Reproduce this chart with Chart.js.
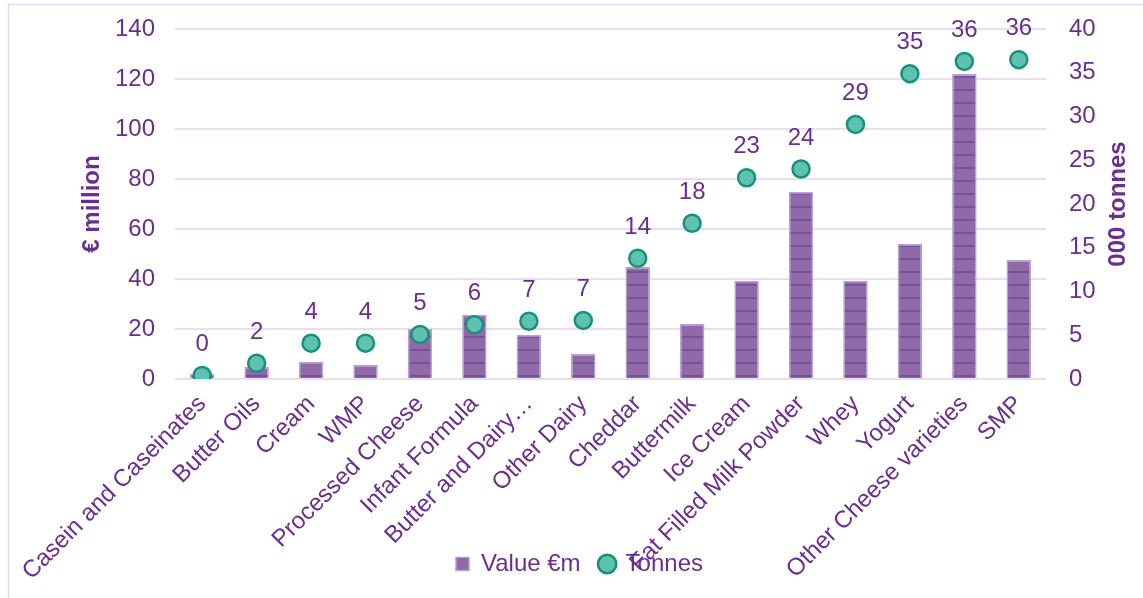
<!DOCTYPE html>
<html>
<head>
<meta charset="utf-8">
<script src="https://cdn.jsdelivr.net/npm/chart.js@4.4.1/dist/chart.umd.min.js"></script>
<style>
  html, body { margin: 0; padding: 0; background: #fff; }
  #wrap { position: relative; width: 1143px; height: 598px; }
</style>
</head>
<body>
<div id="wrap"><canvas id="dairyChart" width="1143" height="598"></canvas></div>
<script>
// ==================== DATA ====================
const categories = [
  "Casein and Caseinates", "Butter Oils", "Cream", "WMP", "Processed Cheese",
  "Infant Formula", "Butter and Dairy…", "Other Dairy", "Cheddar", "Buttermilk",
  "Ice Cream", "Fat Filled Milk Powder", "Whey", "Yogurt", "Other Cheese varieties", "SMP"
];
const valueEurM = [2, 4.8, 6.8, 5.6, 20, 25.7, 17.6, 10, 44.8, 22, 39.3, 74.8, 39.3, 54, 122, 47.6];
const tonnes = [0.4, 1.8, 4.1, 4.1, 5.1, 6.2, 6.6, 6.7, 13.8, 17.8, 23, 24, 29.1, 34.9, 36.3, 36.5];
const tonnesLabels = [0, 2, 4, 4, 5, 6, 7, 7, 14, 18, 23, 24, 29, 35, 36, 36];
const leftTicks = [0, 20, 40, 60, 80, 100, 120, 140];
const rightTicks = [0, 5, 10, 15, 20, 25, 30, 35, 40];

const purple = "#6b2d8e";
const fontFamily = "'Liberation Sans', Arial, sans-serif";
const FS = 24;

// striped bar fill
function barPattern() {
  const c = document.createElement("canvas");
  c.width = 4; c.height = 13;
  const g = c.getContext("2d");
  g.fillStyle = "#8e6aa9";
  g.fillRect(0, 0, 4, 13);
  g.fillStyle = "#77519b";
  g.fillRect(0, 11, 4, 2);
  return g.createPattern(c, "repeat");
}

// ==================== PLUGINS ====================
const frame = {
  id: "frame",
  beforeDraw(chart) {
    const ctx = chart.ctx;
    ctx.save();
    ctx.strokeStyle = "#e6d9ef";
    ctx.lineWidth = 1.5;
    ctx.strokeRect(8.5, 4.5, 1140, 600);
    ctx.restore();
  }
};

// let the rotated category labels run under the legend (no clipping)
const labelRoom = {
  id: "labelRoom",
  afterLayout(chart) {
    chart.scales.x.bottom = chart.height;
  }
};

const pointLabels = {
  id: "pointLabels",
  afterDatasetsDraw(chart) {
    const ctx = chart.ctx;
    const meta = chart.getDatasetMeta(1);
    ctx.save();
    ctx.fillStyle = purple;
    ctx.font = FS + "px " + fontFamily;
    ctx.textAlign = "center";
    ctx.textBaseline = "bottom";
    meta.data.forEach((pt, i) => {
      ctx.fillText(String(tonnesLabels[i]), pt.x, pt.y - 19);
    });
    ctx.restore();
  }
};

const axisTitles = {
  id: "axisTitles",
  afterDraw(chart) {
    const ctx = chart.ctx;
    const a = chart.chartArea;
    const cy = (a.top + a.bottom) / 2;
    [[92, "€ million"], [1118, "000 tonnes"]].forEach(([x, txt]) => {
      ctx.save();
      ctx.fillStyle = purple;
      ctx.font = "bold " + FS + "px " + fontFamily;
      ctx.textAlign = "center";
      ctx.textBaseline = "middle";
      ctx.translate(x, cy);
      ctx.rotate(-Math.PI / 2);
      ctx.fillText(txt, 0, 0);
      ctx.restore();
    });
  }
};

// ==================== CHART ====================
const chart = new Chart(document.getElementById("dairyChart"), {
  data: {
    labels: categories,
    datasets: [{
      type: "bar",
      label: "Value €m",
      data: valueEurM,
      yAxisID: "y",
      backgroundColor: barPattern(),
      borderColor: "#b7a1cf",
      borderWidth: 1.5,
      borderSkipped: "bottom",
      barPercentage: 0.45,
      categoryPercentage: 1,
      pointStyle: "rect",
      order: 2
    }, {
      type: "line",
      label: "Tonnes",
      data: tonnes,
      yAxisID: "y1",
      showLine: false,
      pointStyle: "circle",
      pointRadius: 8.5,
      pointBackgroundColor: "#5fc1b0",
      pointBorderColor: "#17917e",
      pointBorderWidth: 2.5,
      backgroundColor: "#5fc1b0",
      borderColor: "#17917e",
      borderWidth: 2.5,
      order: 1
    }]
  },
  options: {
    responsive: false,
    animation: false,
    layout: { padding: { top: 29, left: 16, right: 0, bottom: 12 } },
    plugins: {
      tooltip: { enabled: false },
      legend: {
        position: "bottom",
        labels: {
          usePointStyle: true,
          boxWidth: 13,
          boxHeight: 13,
          padding: 20,
          color: purple,
          font: { size: FS, family: fontFamily },
          sort: (a, b) => a.datasetIndex - b.datasetIndex
        }
      }
    },
    scales: {
      x: {
        grid: { display: false },
        border: { display: false },
        ticks: {
          autoSkip: false,
          maxRotation: 45,
          minRotation: 45,
          color: purple,
          font: { size: FS, family: fontFamily }
        },
        afterFit(scale) {
          scale.height = 598 - 12 - 379 - scale.chart.legend.height;
        }
      },
      y: {
        position: "left",
        min: 0,
        max: 140,
        afterBuildTicks(scale) { scale.ticks = leftTicks.map(v => ({ value: v })); },
        ticks: { color: purple, padding: 20, font: { size: FS, family: fontFamily } },
        grid: { color: "#eadcf2", lineWidth: 2, drawTicks: false },
        border: { display: false },
        afterFit(scale) { scale.width = 175 - 16; scale.paddingTop = 0; scale.paddingBottom = 0; }
      },
      y1: {
        position: "right",
        min: 0,
        max: 40,
        afterBuildTicks(scale) { scale.ticks = rightTicks.map(v => ({ value: v })); },
        ticks: { color: purple, padding: 23, font: { size: FS, family: fontFamily } },
        grid: { display: false, drawTicks: false },
        border: { display: false },
        afterFit(scale) { scale.width = 1143 - 1046; scale.paddingTop = 0; scale.paddingBottom = 0; }
      }
    }
  },
  plugins: [frame, labelRoom, pointLabels, axisTitles]
});
</script>
</body>
</html>
